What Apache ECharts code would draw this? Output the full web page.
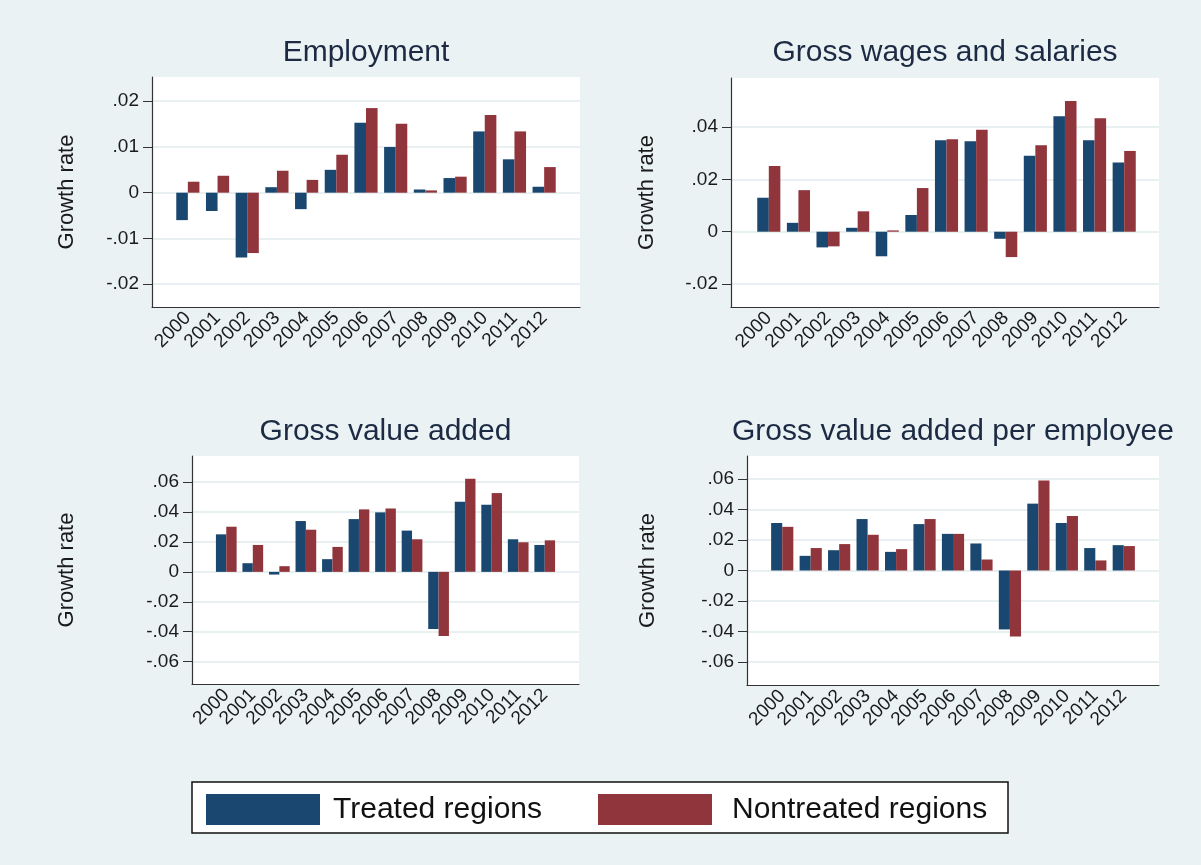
<!DOCTYPE html>
<html>
<head>
<meta charset="utf-8">
<script src="https://cdn.jsdelivr.net/npm/echarts@6/dist/echarts.min.js"></script>
<style>
  html, body { margin: 0; padding: 0; background: #eaf2f3; }
  #chart { width: 1201px; height: 865px; }
</style>
</head>
<body>
<div id="chart"></div>
<script>
// data
const years = ['2000', '2001', '2002', '2003', '2004', '2005', '2006', '2007', '2008', '2009', '2010', '2011', '2012']

const empTreated = [-0.0060, -0.0040, -0.0142, 0.0012, -0.0036, 0.0050, 0.0153, 0.0100, 0.0007, 0.0032, 0.0134, 0.0073, 0.0013]
const empNontreated = [0.0024, 0.0037, -0.0132, 0.0048, 0.0028, 0.0083, 0.0185, 0.0151, 0.0005, 0.0035, 0.0170, 0.0134, 0.0056]

const wageTreated = [0.0130, 0.0034, -0.0060, 0.0015, -0.0094, 0.0064, 0.0350, 0.0346, -0.0027, 0.0291, 0.0442, 0.0350, 0.0265]
const wageNontreated = [0.0251, 0.0159, -0.0056, 0.0078, 0.0005, 0.0167, 0.0354, 0.0390, -0.0097, 0.0331, 0.0500, 0.0434, 0.0309]

const gvaTreated = [0.0251, 0.0058, -0.0018, 0.0340, 0.0085, 0.0353, 0.0398, 0.0276, -0.0382, 0.0469, 0.0449, 0.0218, 0.0180]
const gvaNontreated = [0.0302, 0.0180, 0.0038, 0.0282, 0.0167, 0.0418, 0.0424, 0.0218, -0.0429, 0.0622, 0.0527, 0.0198, 0.0211]

const gvaEmpTreated = [0.0311, 0.0096, 0.0133, 0.0337, 0.0122, 0.0304, 0.0240, 0.0177, -0.0386, 0.0438, 0.0311, 0.0147, 0.0166]
const gvaEmpNontreated = [0.0286, 0.0147, 0.0173, 0.0234, 0.0140, 0.0337, 0.0240, 0.0072, -0.0432, 0.0589, 0.0357, 0.0066, 0.0160]

// tick labels on the y axes
const empTicks = [-0.02, -0.01, 0, 0.01, 0.02]
const wageTicks = [-0.02, 0, 0.02, 0.04]
const gvaTicks = [-0.06, -0.04, -0.02, 0, 0.02, 0.04, 0.06]

const seriesNames = ['Treated regions', 'Nontreated regions']
const colors = ['#1a476f', '#90353b']
const font = "'Liberation Sans', Arial, sans-serif"

// layout of each panel: outer plot box, inner box that holds the bars
const panels = [
  { title: 'Employment', treated: empTreated, nontreated: empNontreated, ticks: empTicks,
    min: -0.025, max: 0.0253, left: 152, top: 77, width: 428, height: 230,
    innerLeft: 173, innerWidth: 386, nameGap: 74, titleY: 53 },
  { title: 'Gross wages and salaries', treated: wageTreated, nontreated: wageNontreated, ticks: wageTicks,
    min: -0.0288, max: 0.0588, left: 731, top: 78, width: 428, height: 229,
    innerLeft: 754, innerWidth: 385, nameGap: 73, titleY: 53 },
  { title: 'Gross value added', treated: gvaTreated, nontreated: gvaNontreated, ticks: gvaTicks,
    min: -0.075, max: 0.0775, left: 192, top: 456, width: 387, height: 228,
    innerLeft: 213, innerWidth: 345, nameGap: 114, titleY: 432 },
  { title: 'Gross value added per employee', treated: gvaEmpTreated, nontreated: gvaEmpNontreated, ticks: gvaTicks,
    min: -0.075, max: 0.075, left: 747, top: 456, width: 412, height: 229,
    innerLeft: 768, innerWidth: 370, nameGap: 88, titleY: 432 }
]

function tickFormat (v) {
  if (Math.abs(v) < 1e-9) return '0'
  return v.toFixed(2).replace('0.', '.')
}

const chart = echarts.init(document.getElementById('chart'))

const grid = []
const xAxis = []
const yAxis = []
const series = []
const graphic = []

panels.forEach((p, i) => {
  // background plot box with y axis, grid lines and bottom axis line
  grid[i] = { left: p.left, top: p.top, width: p.width, height: p.height, show: true, backgroundColor: '#ffffff', borderWidth: 0 }
  xAxis[i] = {
    gridIndex: i, type: 'value', min: 0, max: 1,
    axisLine: { show: true, onZero: false, lineStyle: { color: '#333', width: 1.2 } },
    axisTick: { show: false }, axisLabel: { show: false }, splitLine: { show: false }
  }
  yAxis[i] = {
    gridIndex: i, type: 'value', min: p.min, max: p.max,
    axisLine: { show: true, lineStyle: { color: '#333', width: 1.2 } },
    axisTick: { show: true, length: 9, customValues: p.ticks, lineStyle: { color: '#333' } },
    axisLabel: { customValues: p.ticks, formatter: tickFormat, fontFamily: font, fontSize: 19, color: '#1a1a1a', margin: 13 },
    splitLine: { show: true, lineStyle: { color: '#e8f0f1', width: 2 } },
    name: 'Growth rate', nameLocation: 'middle', nameGap: p.nameGap,
    nameTextStyle: { fontFamily: font, fontSize: 22, color: '#1a1a1a' }
  }
  // inner box for the bars and year labels
  grid[4 + i] = { left: p.innerLeft, top: p.top, width: p.innerWidth, height: p.height }
  xAxis[4 + i] = {
    gridIndex: 4 + i, type: 'category', data: years,
    axisLine: { show: false }, axisTick: { show: false },
    axisLabel: { rotate: 45, interval: 0, fontFamily: font, fontSize: 19, color: '#1a1a1a', margin: 8 }
  }
  yAxis[4 + i] = { gridIndex: 4 + i, type: 'value', min: p.min, max: p.max, show: false }

  ;[p.treated, p.nontreated].forEach((vals, k) => {
    series.push({
      type: 'bar', name: seriesNames[k], data: vals,
      xAxisIndex: 4 + i, yAxisIndex: 4 + i,
      barWidth: '39%', barGap: '0%',
      itemStyle: { color: colors[k] }
    })
  })

  graphic.push({
    type: 'text', x: p.left + p.width / 2, y: p.titleY,
    style: { text: p.title, align: 'center', verticalAlign: 'middle', font: '30px ' + font, fill: '#1c2a44' }
  })
})

// legend box
graphic.push({
  type: 'rect', z: -1, shape: { x: 192, y: 782, width: 816, height: 51 },
  style: { fill: '#ffffff', stroke: '#111', lineWidth: 1.5 }
})

const legendBase = {
  orient: 'horizontal', padding: 0, itemWidth: 114, itemHeight: 31, icon: 'rect',
  selectedMode: false, top: 794
}

chart.setOption({
  animation: false,
  backgroundColor: '#eaf2f3',
  grid: grid,
  xAxis: xAxis,
  yAxis: yAxis,
  series: series,
  graphic: graphic,
  legend: [
    Object.assign({}, legendBase, { data: [seriesNames[0]], left: 206,
      textStyle: { fontFamily: font, fontSize: 30, color: '#111', padding: [0, 0, 0, 8] } }),
    Object.assign({}, legendBase, { data: [seriesNames[1]], left: 598,
      textStyle: { fontFamily: font, fontSize: 30, color: '#111', padding: [0, 0, 0, 15] } })
  ]
})
</script>
</body>
</html>
